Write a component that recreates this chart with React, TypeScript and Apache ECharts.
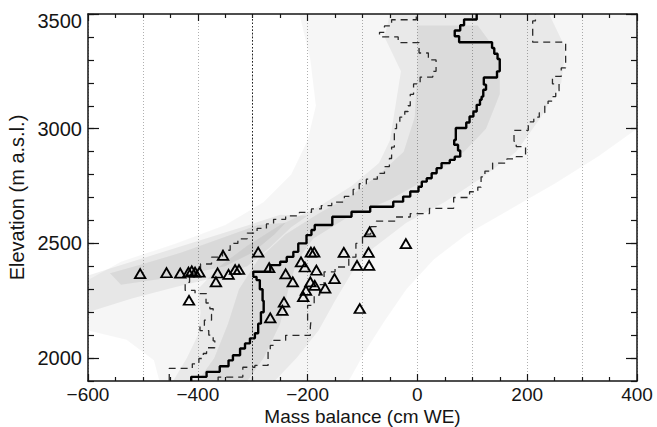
import React, { useEffect, useRef } from 'react';
import * as echarts from 'echarts';

// ---- axis / tick data ----
const xTickLabels = [-600, -400, -200, 0, 200, 400];
const yTickLabels = [2000, 2500, 3000, 3500];
const xRange = [-600, 400];
const yRange = [1900, 3500];
const refLineX = -300;

// ---- median profile (step starts in elevation, value in cm WE) ----
const medianElev = [1900, 1918, 1940, 1964, 1990, 2012, 2042, 2064, 2086, 2108, 2150, 2200, 2250, 2300, 2340, 2354, 2376, 2405, 2420, 2441, 2463, 2500, 2536, 2558, 2580, 2616, 2638, 2660, 2682, 2704, 2726, 2747, 2769, 2784, 2806, 2828, 2850, 2864, 2878, 2905, 2930, 2951, 3003, 3027, 3053, 3075, 3104, 3126, 3140, 3170, 3192, 3223, 3250, 3304, 3327, 3352, 3377, 3403, 3428, 3451, 3476];
const medianVal = [-412, -384, -360, -344, -336, -323, -314, -305, -296, -290, -285, -280, -282, -287, -293, -299, -268, -250, -238, -226, -217, -202, -193, -187, -155, -120, -86, -44, -26, -13, 2, 8, 17, 26, 35, 44, 59, 68, 78, 74, 67, 70, 89, 95, 102, 108, 114, 117, 120, 125, 121, 145, 150, 146, 140, 136, 76, 68, 78, 85, 108];

// ---- lower percentile profile ----
const lowElev = [1900, 1955, 1975, 1998, 2020, 2045, 2075, 2100, 2120, 2140, 2165, 2190, 2215, 2240, 2265, 2281, 2295, 2330, 2370, 2410, 2440, 2470, 2500, 2520, 2545, 2565, 2585, 2605, 2620, 2635, 2650, 2665, 2680, 2705, 2735, 2760, 2780, 2805, 2835, 2870, 2920, 3000, 3025, 3050, 3075, 3100, 3150, 3195, 3225, 3250, 3300, 3330, 3375, 3400, 3420, 3448, 3475];
const lowVal = [-452, -410, -398, -390, -384, -369, -372, -380, -396, -388, -375, -372, -378, -385, -384, -405, -423, -415, -395, -375, -355, -341, -327, -310, -292, -275, -262, -240, -215, -193, -175, -156, -133, -117, -106, -93, -73, -60, -51, -47, -42, -38, -32, -23, -17, -13, -7, 5, 28, 34, 20, 3, -35, -69, -60, -47, -2];

// ---- upper percentile profile ----
const highElev = [1900, 1917, 1960, 1968, 2026, 2055, 2077, 2099, 2135, 2160, 2230, 2275, 2320, 2376, 2397, 2440, 2500, 2540, 2573, 2597, 2615, 2630, 2653, 2700, 2725, 2745, 2790, 2815, 2850, 2868, 2878, 2922, 2945, 2993, 3030, 3050, 3070, 3100, 3120, 3140, 3165, 3195, 3228, 3265, 3377, 3470];
const highVal = [-363, -318, -296, -272, -268, -262, -240, -195, -194, -200, -188, -178, -170, -150, -125, -112, -100, -85, -75, -40, -13, 22, 66, 95, 110, 116, 123, 137, 163, 180, 197, 180, 176, 202, 212, 222, 232, 238, 246, 252, 258, 246, 262, 270, 210, 215];

// ---- stake measurements (triangles) ----
const triMass = [-505, -457, -432, -417, -411, -405, -397, -364, -344, -332, -325, -354, -367, -416, -290, -270, -268, -240, -227, -243, -246, -212, -205, -194, -188, -184, -195, -187, -203, -208, -168, -151, -134, -110, -88, -89, -87, -21, -105];
const triElev = [2368, 2372, 2370, 2375, 2380, 2375, 2375, 2371, 2365, 2386, 2386, 2448, 2332, 2252, 2462, 2394, 2175, 2367, 2332, 2244, 2208, 2419, 2397, 2462, 2462, 2383, 2332, 2317, 2295, 2268, 2305, 2346, 2461, 2404, 2404, 2461, 2550, 2499, 2216];

// ---- modelled point cloud, outlined as density zones [mass balance, elevation] ----
const cloudOuter = [[-215, 3500], [400, 3500], [400, 3000], [330, 2880], [250, 2760], [170, 2650], [90, 2540], [30, 2430], [-20, 2300], [-60, 2160], [-95, 2030], [-125, 1900], [-470, 1900], [-480, 1990], [-530, 2080], [-600, 2120], [-600, 2340], [-540, 2420], [-440, 2500], [-350, 2580], [-280, 2680], [-230, 2800], [-200, 2950], [-185, 3100], [-195, 3300]];
const cloudMid = [[-50, 3500], [240, 3500], [270, 3350], [262, 3200], [225, 3050], [180, 2900], [120, 2790], [50, 2680], [-20, 2590], [-80, 2480], [-120, 2370], [-150, 2250], [-180, 2120], [-220, 2000], [-260, 1900], [-445, 1900], [-420, 2000], [-400, 2100], [-395, 2200], [-400, 2300], [-360, 2400], [-310, 2490], [-250, 2580], [-180, 2660], [-120, 2750], [-70, 2850], [-50, 2950], [-40, 3100], [-30, 3250], [-60, 3400]];
const cloudTongue = [[-600, 2200], [-520, 2260], [-440, 2310], [-370, 2350], [-310, 2400], [-270, 2480], [-230, 2570], [-200, 2620], [-250, 2625], [-320, 2570], [-400, 2510], [-480, 2450], [-560, 2390], [-600, 2360]];
const cloudCore = [[0, 3450], [110, 3450], [150, 3320], [150, 3150], [125, 3000], [85, 2900], [25, 2790], [-50, 2690], [-130, 2610], [-190, 2520], [-220, 2420], [-235, 2300], [-250, 2150], [-280, 2000], [-310, 1900], [-400, 1900], [-370, 2000], [-345, 2150], [-325, 2300], [-290, 2430], [-240, 2540], [-180, 2630], [-120, 2710], [-70, 2800], [-25, 2900], [-5, 3050], [0, 3250]];
const cloudTongueCore = [[-540, 2320], [-440, 2355], [-350, 2400], [-300, 2460], [-260, 2540], [-240, 2590], [-290, 2580], [-360, 2520], [-430, 2460], [-500, 2410], [-560, 2370]];

const cloudLayers = [cloudOuter, cloudMid, cloudTongue, cloudCore, cloudTongueCore];
const cloudAlpha = [0.035, 0.05, 0.06, 0.06, 0.06];

function stepLine(elev: number[], val: number[], top: number) {
  const pts: number[][] = [];
  elev.forEach((e, i) => {
    const next = i + 1 < elev.length ? elev[i + 1] : top;
    pts.push([val[i], e], [val[i], next]);
  });
  return pts;
}

const FONT = 'Liberation Sans, Arial, Helvetica, sans-serif';
const INK = '#151515';
const FS = 20;
const FSX = 19;

export default function App() {
  const ref = useRef<HTMLDivElement>(null);
  useEffect(() => {
    if (!ref.current) return;
    const chart = echarts.init(ref.current, null, { renderer: 'svg' });
    const axisLine = { show: true, onZero: false, lineStyle: { color: INK, width: 1.5 } };
    const tickStyle = { color: INK, width: 1.2 };
    const baseX = { type: 'value', min: xRange[0], max: xRange[1], interval: 200 };
    const baseY = { type: 'value', min: yRange[0], max: yRange[1], interval: 100 };
    const topLabel = yTickLabels[yTickLabels.length - 1];
    const option: any = {
      animation: false,
      backgroundColor: '#ffffff',
      grid: { left: 88, top: 14, right: 20, bottom: 46, containLabel: false, outerBoundsMode: 'none' },
      xAxis: [
        {
          ...baseX,
          position: 'bottom',
          axisLine,
          axisTick: { show: true, inside: true, length: 7, lineStyle: tickStyle },
          minorTick: { show: true, splitNumber: 4, length: 4, lineStyle: tickStyle },
          axisLabel: {
            show: true, margin: 5.5, fontSize: FSX, lineHeight: 16, color: INK, fontFamily: FONT,
            customValues: xTickLabels,
            formatter: (v: number) => String(v).replace('-', '\u2212'),
          },
          splitLine: { show: false },
          name: 'Mass balance (cm WE)',
          nameLocation: 'middle',
          nameMoveOverlap: false,
          nameGap: 26.5,
          nameTextStyle: { fontSize: FSX, lineHeight: 17, color: INK, fontFamily: FONT },
        },
        {
          ...baseX,
          position: 'top',
          axisLine,
          axisTick: { show: true, inside: true, length: 7, lineStyle: tickStyle },
          minorTick: { show: true, splitNumber: 4, length: 4, lineStyle: tickStyle },
          axisLabel: { show: false },
          splitLine: { show: false },
        },
        {
          type: 'value', min: xRange[0], max: xRange[1], interval: 100,
          position: 'bottom',
          axisLine: { show: false, onZero: false },
          axisTick: { show: false },
          axisLabel: { show: false },
          splitLine: { show: true, lineStyle: { color: '#b0b0b0', width: 1, type: [1, 2] } },
        },
      ],
      yAxis: [
        {
          ...baseY,
          position: 'left',
          axisLine,
          axisTick: { show: true, inside: true, length: 6, lineStyle: tickStyle },
          axisLabel: {
            show: true, margin: 6, fontSize: FS, color: INK, fontFamily: FONT,
            customValues: yTickLabels,
            formatter: (v: number) => (v === topLabel ? `{top|${v}}` : `${v}`),
            rich: { top: { fontSize: FS, color: INK, fontFamily: FONT, padding: [14, 0, 0, 0] } },
          },
          splitLine: { show: false },
          name: 'Elevation (m a.s.l.)',
          nameLocation: 'middle',
          nameGap: 53,
          nameRotate: 90,
          nameTextStyle: { fontSize: FS, color: INK, fontFamily: FONT },
        },
        {
          ...baseY,
          position: 'left',
          axisLine: { show: false, onZero: false },
          axisTick: { show: true, inside: true, length: 11, lineStyle: tickStyle, customValues: yTickLabels },
          axisLabel: { show: false },
          splitLine: { show: false },
        },
        {
          ...baseY,
          position: 'right',
          axisLine,
          axisTick: { show: true, inside: true, length: 6, lineStyle: tickStyle },
          axisLabel: { show: false },
          splitLine: { show: false },
        },
        {
          ...baseY,
          position: 'right',
          axisLine: { show: false, onZero: false },
          axisTick: { show: true, inside: true, length: 11, lineStyle: tickStyle, customValues: yTickLabels },
          axisLabel: { show: false },
          splitLine: { show: false },
        },
      ],
      series: [
        {
          type: 'custom',
          name: 'cloud',
          silent: true,
          clip: true,
          z: 1,
          xAxisIndex: 0,
          yAxisIndex: 0,
          data: cloudLayers.map((poly) => poly[0]),
          renderItem: (params: any, api: any) => {
            const poly = cloudLayers[params.dataIndex];
            return {
              type: 'polygon',
              shape: { points: poly.map((p) => api.coord(p)) },
              style: { fill: `rgba(0,0,0,${cloudAlpha[params.dataIndex]})` },
              silent: true,
            };
          },
        },
        {
          type: 'line',
          name: 'lower',
          xAxisIndex: 0, yAxisIndex: 0,
          data: stepLine(lowElev, lowVal, yRange[1]),
          symbol: 'none', showSymbol: false, silent: true, z: 3,
          lineStyle: { color: '#2a2a2a', width: 1.3, type: [7, 5] },
        },
        {
          type: 'line',
          name: 'upper',
          xAxisIndex: 0, yAxisIndex: 0,
          data: stepLine(highElev, highVal, yRange[1]),
          symbol: 'none', showSymbol: false, silent: true, z: 3,
          lineStyle: { color: '#2a2a2a', width: 1.3, type: [7, 5] },
        },
        {
          type: 'line',
          name: 'median',
          xAxisIndex: 0, yAxisIndex: 0,
          data: stepLine(medianElev, medianVal, yRange[1]),
          symbol: 'none', showSymbol: false, silent: true, z: 4,
          lineStyle: { color: '#000', width: 2.4 },
          markLine: {
            silent: true,
            symbol: 'none',
            label: { show: false },
            lineStyle: { color: '#222', width: 1, type: [1.5, 2] },
            data: [{ xAxis: refLineX }],
          },
        },
        {
          type: 'scatter',
          name: 'stakes',
          xAxisIndex: 0, yAxisIndex: 0,
          data: triMass.map((m, i) => [m, triElev[i]]),
          symbol: 'triangle',
          symbolSize: [10.5, 9],
          silent: true,
          z: 5,
          itemStyle: { color: 'rgba(0,0,0,0)', borderColor: '#000', borderWidth: 1.8, opacity: 1 },
        },
      ],
    };
    chart.setOption(option);
    return () => chart.dispose();
  }, []);
  return (
    <div
      ref={ref}
      style={{ position: 'absolute', left: 0, top: 0, width: 657, height: 427, background: '#fff' }}
    />
  );
}
